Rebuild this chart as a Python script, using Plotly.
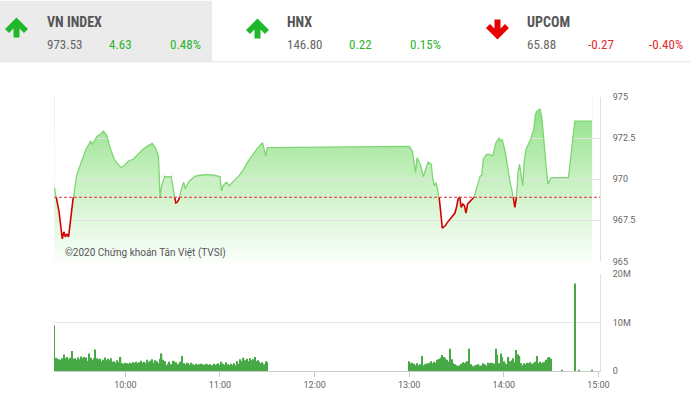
import base64
import struct
import zlib
import pandas as pd
import plotly.graph_objects as go

DAY = "2020-01-01 "

# ---------------- data ----------------
idx_names = ["VN INDEX", "HNX", "UPCOM"]
idx_values = [973.53, 146.80, 65.88]
idx_changes = [4.63, 0.22, -0.27]
idx_pcts = [0.48, 0.15, -0.40]

price_times = [
    "09:15", "09:16", "09:18", "09:20", "09:21", "09:22", "09:23", "09:24", "09:25", "09:27",
    "09:29", "09:32", "09:35", "09:38", "09:39", "09:41", "09:42", "09:44", "09:46", "09:48",
    "09:49", "09:51", "09:53", "09:57", "09:59", "10:02", "10:05", "10:08", "10:11", "10:14",
    "10:17", "10:19", "10:21", "10:22", "10:23", "10:25", "10:27", "10:29", "10:30", "10:31",
    "10:32", "10:33", "10:34", "10:35", "10:36", "10:37", "10:38", "10:40", "10:42", "10:44",
    "10:47", "10:52", "10:56", "11:00", "11:01", "11:02", "11:04", "11:06", "11:08", "11:12",
    "11:15", "11:18", "11:21", "11:24", "11:27", "11:29", "11:30",
    "13:00", "13:02", "13:04", "13:05", "13:07", "13:09", "13:11", "13:12", "13:14", "13:15",
    "13:16", "13:17", "13:18", "13:19", "13:20", "13:21", "13:23", "13:24", "13:25", "13:26",
    "13:28", "13:29", "13:30", "13:31", "13:32", "13:33", "13:34", "13:35", "13:36", "13:37",
    "13:38", "13:40", "13:41", "13:42", "13:44", "13:45", "13:46", "13:47", "13:49", "13:51",
    "13:53", "13:54", "13:55", "13:57", "13:58", "13:59", "14:01", "14:02", "14:03", "14:04",
    "14:05", "14:06", "14:07", "14:08", "14:09", "14:10", "14:11", "14:12", "14:13", "14:14",
    "14:17", "14:19", "14:20", "14:21", "14:23", "14:24", "14:25", "14:26", "14:27", "14:28",
    "14:30", "14:41", "14:45", "14:56",
]
price_values = [
    969.50, 968.91, 968.00, 966.37, 966.80, 966.49, 966.67, 966.49, 967.40, 968.95,
    970.20, 971.03, 971.81, 972.32, 972.12, 972.42, 972.62, 972.72, 972.92, 972.72,
    972.32, 971.71, 971.21, 970.71, 970.80, 971.11, 971.21, 971.51, 971.81, 972.01,
    972.18, 971.93, 971.41, 968.90, 969.59, 970.18, 970.12, 970.18, 969.59, 968.91,
    968.55, 968.61, 968.79, 969.21, 969.59, 969.82, 969.40, 969.82, 970.00, 970.18,
    970.24, 970.28, 970.24, 970.16, 969.29, 969.59, 969.82, 969.59, 969.82, 970.20,
    970.60, 971.11, 971.51, 971.92, 972.22, 971.41, 971.92,
    972.00, 971.71, 970.41, 971.31, 970.91, 970.16, 970.71, 971.05, 970.91, 970.00,
    969.59, 969.80, 969.40, 968.89, 967.99, 967.02, 967.18, 967.38, 967.48, 967.58,
    967.78, 967.94, 968.29, 968.79, 968.95, 968.29, 968.49, 968.39, 967.94, 968.49,
    968.59, 968.79, 968.89, 969.20, 969.90, 970.20, 970.24, 971.21, 971.51, 971.51,
    971.41, 971.92, 972.22, 972.52, 972.32, 972.42, 971.61, 971.01, 970.30, 969.80,
    969.40, 968.89, 968.29, 968.89, 970.41, 970.91, 970.10, 969.59, 971.11, 971.81,
    972.42, 973.02, 973.93, 974.13, 974.27, 973.83, 972.82, 971.41, 970.60, 969.70,
    970.10, 970.10, 973.53, 973.53,
]

# volume in millions, one bar per minute
vol_am_start = "09:15"
vol_am = [
    9.4,
    2.7, 2.5, 2.4, 2.3, 2.6, 3.4, 2.6, 2.9, 2.4, 2.7, 4.1, 2.5, 2.6, 2.3, 2.8,
    2.4, 3.0, 2.6, 2.9, 2.8, 2.1, 3.6, 2.7, 2.3, 2.6, 4.4, 2.6, 2.4, 2.5, 2.0,
    2.3, 2.8, 2.2, 2.5, 2.2, 2.6, 1.9, 2.0, 1.7, 2.2, 1.8, 2.9, 1.6, 1.5, 1.7,
    1.6, 1.5, 1.7, 1.6, 1.8, 1.7, 1.9, 1.6, 1.8, 2.1, 1.7, 1.9, 1.6, 2.3, 1.8,
    2.1, 2.4, 1.7, 2.2, 2.0, 1.6, 2.5, 3.6, 2.3, 2.0, 1.2, 1.5, 1.9, 1.4, 2.1,
    2.0, 1.8, 1.4, 1.5, 1.9, 3.1, 1.6, 1.4, 1.7, 1.6, 1.3, 1.7, 1.4, 1.2, 1.5,
    1.3, 1.4, 1.5, 1.4, 1.3, 1.5, 1.4, 1.3, 1.4, 1.2, 1.5, 1.3, 1.4, 1.6, 1.3,
    1.9, 1.5, 1.3, 1.8, 1.4, 1.2, 1.5, 1.3, 1.6, 1.2, 2.0, 1.5, 2.4, 2.0, 2.7,
    2.2, 2.5, 2.0, 2.6, 2.2, 2.4, 2.9, 2.0, 2.2, 1.9, 1.6, 1.8, 1.4, 2.0, 1.8,
]
vol_pm_start = "13:00"
vol_pm = [
    2.0, 1.6, 1.7, 1.5, 1.2, 1.6, 1.2, 1.4, 3.1, 1.2,
    1.4, 1.5, 1.6, 1.7, 2.0, 1.6, 1.9, 1.7, 2.3, 2.5,
    2.7, 3.3, 2.9, 2.6, 2.3, 1.9, 4.6, 2.4, 1.6, 1.4,
    1.2, 1.1, 1.2, 1.5, 1.8, 1.6, 1.8, 2.0, 4.6, 1.4,
    1.1, 0.9, 1.2, 1.3, 1.4, 1.1, 1.2, 1.6, 1.4, 1.1,
    1.7, 1.6, 1.7, 1.6, 1.5, 4.6, 3.4, 1.6, 3.6, 2.9,
    2.0, 1.6, 1.4, 2.9, 2.0, 2.2, 2.6, 1.8, 4.3, 3.4,
    3.1, 1.6, 1.2, 1.6, 1.4, 1.7, 1.6, 1.8, 1.5, 1.6,
    1.9, 3.1, 1.6, 1.9, 1.6, 1.8, 1.9, 2.3, 2.7, 2.9,
    2.5,
]
vol_late_times = ["14:37", "14:45", "14:48", "14:56"]
vol_late = [0.15, 18.0, 0.15, 0.15]

price_ticks = [965, 967.5, 970, 972.5, 975]
vol_ticks = [0, 10, 20]
vol_tick_text = ["0", "10M", "20M"]
copyright_text = "©2020 Chứng khoán Tân Việt (TVSI)"

# ---------------- geometry ----------------
W, H = 690, 402
ML, MR, MT, MB = 54, 90, 97, 29
PW, PH = W - ML - MR, H - MT - MB


def px(x):
    return (x - ML) / PW


def py(y):
    return (H - MB - y) / PH


P0, P1 = 0.40, 1.0
V0, V1 = 0.0, 0.355
lo, hi = price_ticks[0], price_ticks[-1]
ref = round(idx_values[0] - idx_changes[0], 2)
d_ref = P0 + (ref - lo) / (hi - lo) * (P1 - P0)

t_price = pd.to_datetime([DAY + s for s in price_times])
t_am = pd.date_range(DAY + vol_am_start, periods=len(vol_am), freq="min")
t_pm = pd.date_range(DAY + vol_pm_start, periods=len(vol_pm), freq="min")
t_late = pd.to_datetime([DAY + s for s in vol_late_times])
vx = t_am.append(t_pm).append(t_late)
vy = [v * 1e6 for v in (vol_am + vol_pm + vol_late)]

xr0 = pd.Timestamp(DAY + "09:14:45")
xr1 = pd.Timestamp(DAY + "15:01:00")
xr = [xr0.strftime("%Y-%m-%d %H:%M:%S"), xr1.strftime("%Y-%m-%d %H:%M:%S")]


def xfrac(t):
    return (t - xr0) / (xr1 - xr0)


GREEN_LINE = "#7ed673"
RED_LINE = "#d40000"
TICKFONT = dict(family="Roboto, sans-serif", size=9, color="#666666")
HFONT = "Roboto Condensed, Liberation Sans Narrow, Roboto, sans-serif"


# ---- vertical gradient image (PNG built in memory), top -> bottom ----
def gradient_png(stops, height=200, width=2):
    rows = []
    for r in range(height):
        f = r / (height - 1)
        for (f0, c0), (f1, c1) in zip(stops[:-1], stops[1:]):
            if f0 <= f <= f1:
                k = (f - f0) / (f1 - f0) if f1 > f0 else 0
                rgb = [round(a + (b - a) * k) for a, b in zip(c0, c1)]
                break
        rows.append(b"\x00" + bytes(rgb) * width)
    raw = b"".join(rows)

    def chunk(tag, data):
        return (struct.pack(">I", len(data)) + tag + data
                + struct.pack(">I", zlib.crc32(tag + data) & 0xFFFFFFFF))

    png = (b"\x89PNG\r\n\x1a\n"
           + chunk(b"IHDR", struct.pack(">IIBBBBB", width, height, 8, 2, 0, 0, 0))
           + chunk(b"IDAT", zlib.compress(raw, 9))
           + chunk(b"IEND", b""))
    return "data:image/png;base64," + base64.b64encode(png).decode()


grad_src = gradient_png([(0.0, (0x8a, 0xde, 0x82)), (0.45, (0xc2, 0xef, 0xbb)),
                         (1.0, (0xfa, 0xfe, 0xfa))])

fig = go.Figure()

# invisible index series + white cover above it (gradient stays visible only below the line)
fig.add_trace(go.Scatter(
    x=t_price, y=price_values, xaxis="x2", yaxis="y2", mode="lines",
    line=dict(width=0.5, color="rgba(0,0,0,0)"), hoverinfo="skip",
))
fig.add_trace(go.Scatter(
    x=t_price, y=[hi] * len(t_price), xaxis="x2", yaxis="y2", mode="lines",
    line=dict(width=0.5, color="rgba(0,0,0,0)"), fill="tonexty", fillcolor="white",
    hoverinfo="skip",
))
# green line (clipped to the area above previous close)
fig.add_trace(go.Scatter(
    x=t_price, y=price_values, xaxis="x2", yaxis="y3", mode="lines",
    line=dict(color=GREEN_LINE, width=1.3),
))
# red line (clipped to the area below previous close)
fig.add_trace(go.Scatter(
    x=t_price, y=price_values, xaxis="x2", yaxis="y4", mode="lines",
    line=dict(color=RED_LINE, width=1.6),
))
# volume
fig.add_trace(go.Bar(
    x=vx, y=vy, xaxis="x", yaxis="y",
    marker=dict(color="#46a946", line=dict(width=0)),
))

fig.update_layout(
    width=W, height=H,
    margin=dict(l=ML, r=MR, t=MT, b=MB),
    paper_bgcolor="white", plot_bgcolor="rgba(0,0,0,0)",
    showlegend=False, bargap=0.2,
    xaxis=dict(domain=[0, 1], anchor="y", type="date", range=xr,
               tickformat="%H:%M", dtick=3600000, tick0=DAY + "10:00",
               ticks="outside", ticklen=5, tickcolor="#cccccc",
               showline=True, linecolor="#cccccc", linewidth=1,
               showgrid=False, zeroline=False, tickfont=TICKFONT),
    xaxis2=dict(domain=[0, 1], anchor="y2", type="date", range=xr, matches="x",
                showticklabels=False, showgrid=False, zeroline=False, ticks="",
                showline=False),
    yaxis=dict(domain=[V0, V1], anchor="x", side="right", range=[0, 20e6],
               tickvals=[v * 1e6 for v in vol_ticks], ticktext=vol_tick_text,
               showgrid=True, gridcolor="#e6e6e6", gridwidth=1,
               showline=True, linecolor="#e0e0e0", zeroline=False,
               ticks="outside", ticklen=10, tickcolor="rgba(0,0,0,0)",
               tickfont=TICKFONT),
    yaxis2=dict(domain=[P0, P1], anchor="x2", side="right", range=[lo, hi],
                tickvals=price_ticks, ticktext=[f"{v:g}" for v in price_ticks],
                showgrid=True, gridcolor="#e3e3e3", gridwidth=1,
                showline=True, linecolor="#e0e0e0", zeroline=False,
                ticks="outside", ticklen=10, tickcolor="rgba(0,0,0,0)",
                tickfont=TICKFONT, layer="above traces"),
    yaxis3=dict(domain=[d_ref, P1], anchor="x2", range=[ref, hi], visible=False),
    yaxis4=dict(domain=[P0, d_ref], anchor="x2", range=[lo, ref], visible=False),
    images=[dict(source=grad_src, xref="paper", yref="paper",
                 x=xfrac(t_price[0]), y=P1,
                 sizex=xfrac(t_price[-1]) - xfrac(t_price[0]), sizey=P1 - P0,
                 xanchor="left", yanchor="top", sizing="stretch", layer="below")],
)

shapes = []
annotations = []

# header background + separator
shapes.append(dict(type="rect", xref="paper", yref="paper",
                   x0=px(0), x1=px(212), y0=py(61), y1=py(0),
                   fillcolor="#ebebeb", line=dict(width=0), layer="below"))
shapes.append(dict(type="line", xref="paper", yref="paper",
                   x0=px(0), x1=px(W), y0=py(61.5), y1=py(61.5),
                   line=dict(color="#e3e3e3", width=1)))


def arrow_path(cx, ty, up=True):
    rel = [(0, 0), (11.5, 11.5), (7.5, 15.5), (3, 11), (3, 20),
           (-3, 20), (-3, 11), (-7.5, 15.5), (-11.5, 11.5)]
    pts = []
    for dx, dy in rel:
        yy = ty + dy if up else ty + 20 - dy
        pts.append(f"{px(cx + dx):.5f},{py(yy):.5f}")
    return "M " + " L ".join(pts) + " Z"


name_x = [45, 285, 525]
chg_x = [107, 347, 586]
pct_x = [168, 408, 647]
arrow_cx = [16.5, 257.5, 497.5]
arrow_top = [17, 18, 19]

for i, name in enumerate(idx_names):
    up = idx_changes[i] >= 0
    col = "#2bb52b" if up else "#e02b2b"
    shapes.append(dict(type="path", xref="paper", yref="paper",
                       path=arrow_path(arrow_cx[i], arrow_top[i], up),
                       fillcolor="#1fb82a" if up else "#e60000",
                       line=dict(width=0)))
    annotations.append(dict(xref="paper", yref="paper", x=px(name_x[i]), y=py(21),
                            xanchor="left", yanchor="middle", showarrow=False,
                            text=f"<b>{name}</b>",
                            font=dict(family=HFONT, size=14, color="#555555")))
    annotations.append(dict(xref="paper", yref="paper", x=px(name_x[i]), y=py(44.5),
                            xanchor="left", yanchor="middle", showarrow=False,
                            text=f"{idx_values[i]:.2f}",
                            font=dict(family=HFONT, size=13, color="#666666")))
    annotations.append(dict(xref="paper", yref="paper", x=px(chg_x[i]), y=py(44.5),
                            xanchor="left", yanchor="middle", showarrow=False,
                            text=f"{idx_changes[i]:.2f}",
                            font=dict(family=HFONT, size=13, color=col)))
    annotations.append(dict(xref="paper", yref="paper", x=px(pct_x[i]), y=py(44.5),
                            xanchor="left", yanchor="middle", showarrow=False,
                            text=f"{idx_pcts[i]:.2f}%",
                            font=dict(family=HFONT, size=13, color=col)))

# previous close reference line
shapes.append(dict(type="line", xref="x2 domain", yref="y2", x0=0, x1=1, y0=ref, y1=ref,
                   line=dict(color="#e03434", width=1, dash="3px,2px"), layer="above"))

annotations.append(dict(xref="x2 domain", yref="y2 domain", x=(63 - ML) / PW, y=0.053,
                        xanchor="left", yanchor="middle", showarrow=False,
                        text=copyright_text,
                        font=dict(family="Roboto, sans-serif", size=10, color="#555555")))

fig.update_layout(shapes=shapes, annotations=annotations)

fig.write_html("out.html", config={"displayModeBar": False},
               post_script="document.body.style.margin='0';")
